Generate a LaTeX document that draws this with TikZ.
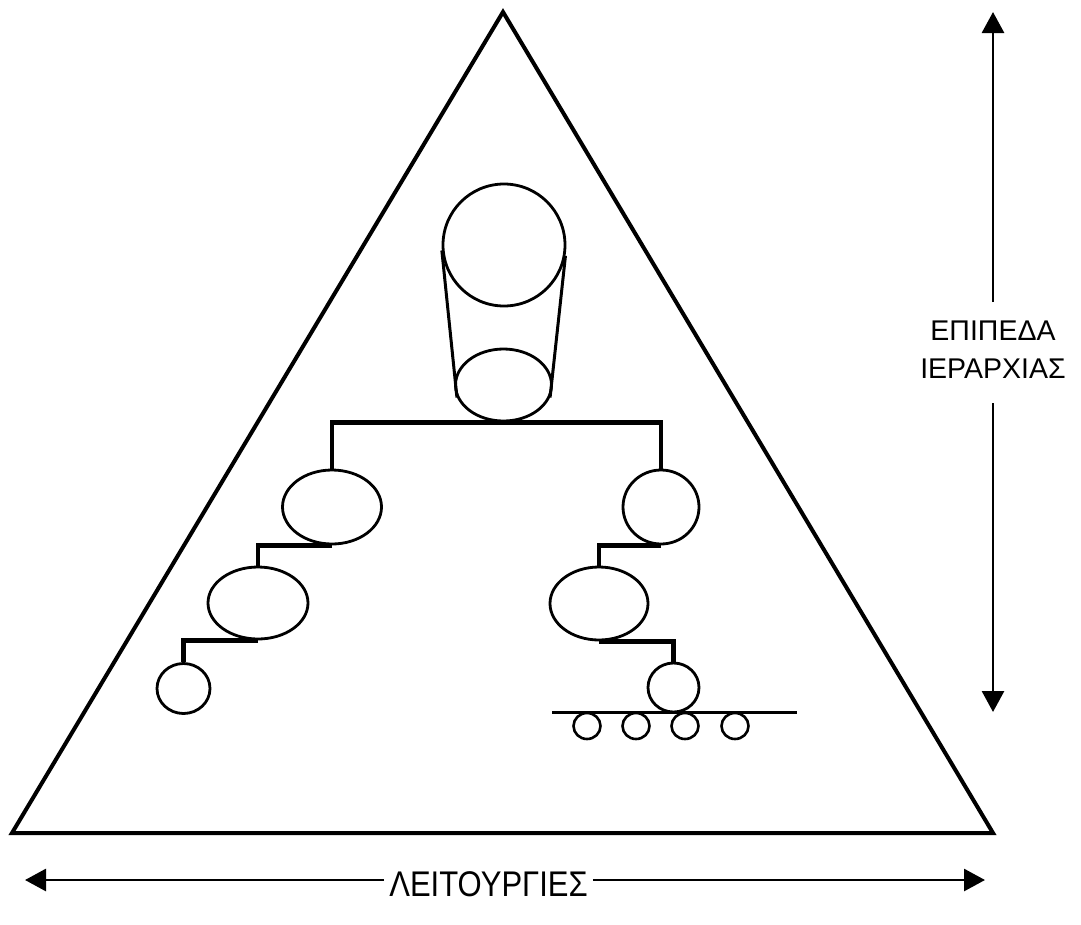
\documentclass[tikz,border=0pt]{standalone}
\usepackage{fontspec}
\setmainfont{Liberation Sans}
\usetikzlibrary{shapes.geometric,arrows.meta}
\begin{document}
\begin{tikzpicture}[x=1pt,y=-1pt,
  oval/.style={draw,ellipse,line width=2.8pt,inner sep=0pt},
  link/.style={draw,line width=4.2pt,line join=miter},
  frame/.style={draw,line width=4pt,line join=miter},
  dimarrow/.style={line width=2.8pt,-{Triangle[length=21pt,width=22pt]}},
  lab/.style={font=\fontsize{28.5}{38}\selectfont,align=center}]
\useasboundingbox (0,0) rectangle (1081,924);
% pyramid
\draw[frame] (503,12) -- (993,833) -- (12,833) -- cycle;
% cylinder
\node[oval,minimum width=122pt,minimum height=122pt] (top) at (504,245) {};
\node[oval,minimum width=96pt,minimum height=72pt] (bot) at (503.5,385) {};
\draw[line width=3pt] (top.185) -- (bot.195);
\draw[line width=3pt] (top.350) -- (bot.345);
% left branch
\node[oval,minimum width=99pt,minimum height=74pt] (L1) at (332,507) {};
\node[oval,minimum width=100pt,minimum height=72pt] (L2) at (258,603) {};
\node[oval,minimum width=53pt,minimum height=50pt] (L3) at (183.5,688.5) {};
% right branch
\node[oval,minimum width=76pt,minimum height=74pt] (R1) at (661,507) {};
\node[oval,minimum width=98pt,minimum height=73pt] (R2) at (599,603.5) {};
\node[oval,minimum width=51pt,minimum height=49pt] (R3) at (673.5,687.5) {};
% connectors
\draw[link] (L1.north) |- (bot.south) -| (R1.north);
\draw[link] (L1.south) -| (L2.north);
\draw[link] (L2.south) -| (L3.north);
\draw[link] (R1.south) -| (R2.north);
\draw[link] (R2.south) -| (R3.north);
% bus
\coordinate (busL) at (552,712.5);
\coordinate (busR) at (797,712.5);
\draw[line width=3pt] (busL) -- (busR);
\foreach \i/\x in {1/587,2/636,3/685,4/735}{
  \node[oval,line width=2.6pt,minimum width=27pt,minimum height=26pt] (s\i) at (\x,726) {};
}
% vertical dimension
\coordinate (vtop) at (993,12);
\coordinate (vbot) at (993,712);
\node[lab] (levels) at (993,350) {ΕΠΙΠΕΔΑ\\ΙΕΡΑΡΧΙΑΣ};
\draw[dimarrow] (993,302) -- (vtop);
\draw[dimarrow] (993,403) -- (vbot);
% horizontal dimension
\coordinate (hl) at (25,880);
\coordinate (hr) at (985,880);
\node[font=\fontsize{31}{31}\selectfont,inner sep=0pt,yscale=1.15] (funcs) at (488.5,884) {ΛΕΙΤΟΥΡΓΙΕΣ};
\draw[dimarrow] (funcs.west) ++(-5,-4) -- (hl);
\draw[dimarrow] (funcs.east) ++(5,-4) -- (hr);
\end{tikzpicture}
\end{document}
